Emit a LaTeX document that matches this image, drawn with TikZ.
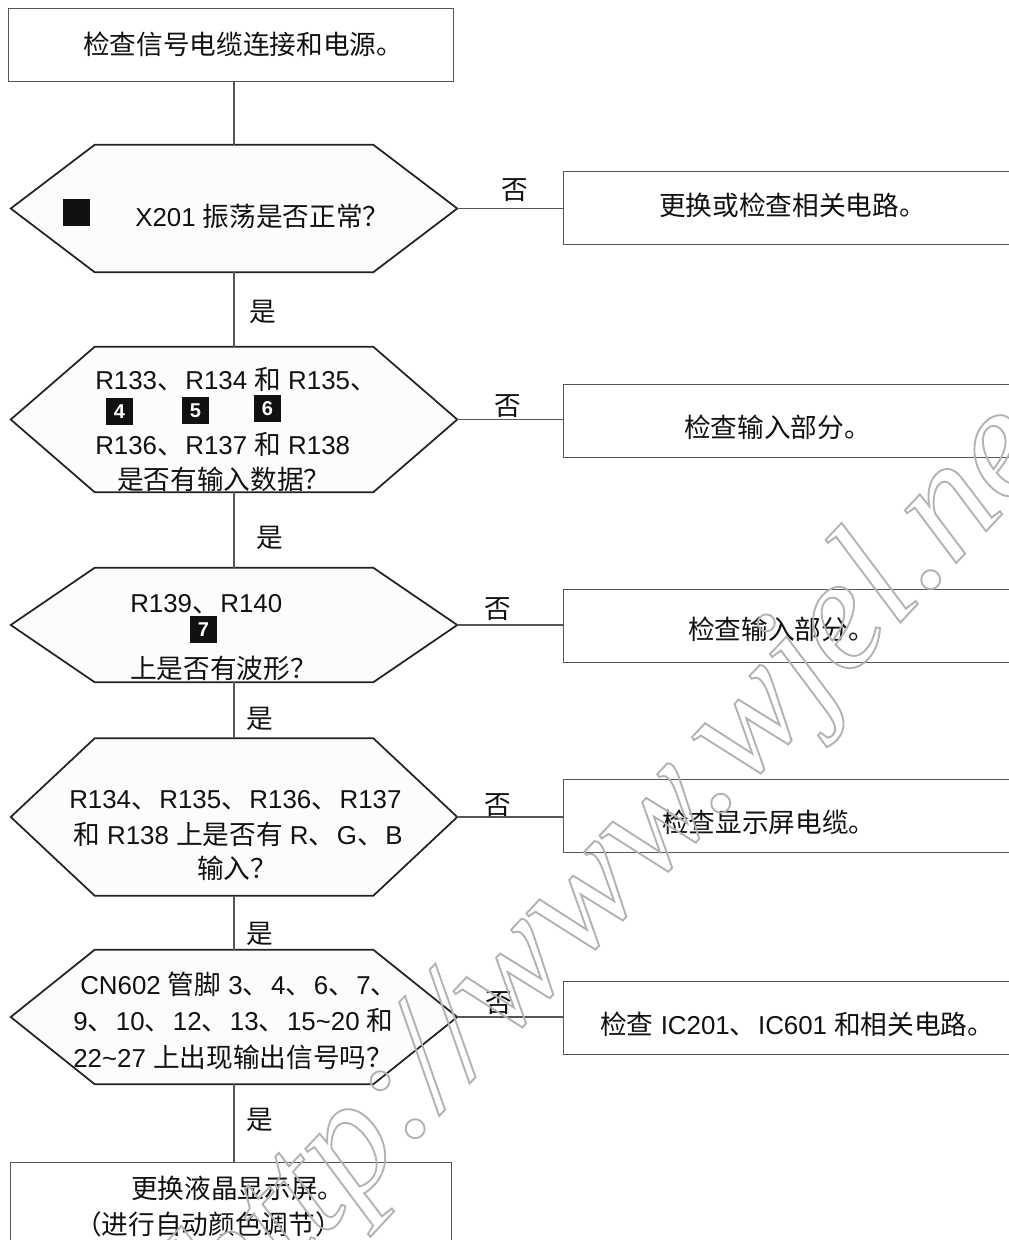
\documentclass[tikz,border=0pt]{standalone}
\usepackage{fontspec}
\setmainfont{Liberation Sans}
\newfontfamily\cjk{Noto Sans CJK SC}
\newfontfamily\wmfont{Liberation Serif}
\newcommand\Z[1]{{\cjk\fontsize{20}{20}\selectfont #1}}
\newcommand\D{\Z{、}\kern 1.2pt}
\definecolor{inkc}{HTML}{111111}
\definecolor{boxc}{HTML}{555555}
\definecolor{hexc}{HTML}{222222}
\definecolor{wmc}{HTML}{B4B4B4}
\definecolor{hexfill}{HTML}{FCFCFC}
\tikzset{
  flowbox/.style={draw=boxc,line width=.7pt,fill=white,inner sep=0pt,minimum height=73*.75pt},
  rightbox/.style={flowbox,minimum width=467*.75pt},
  hexbox/.style={inner sep=0pt,minimum width=446*.75pt},
  hexline/.style={draw=hexc,line width=1.3pt,fill=hexfill,line join=miter},
  conn/.style={draw=boxc,line width=.8pt},
  lab/.style={anchor=base west,inner sep=0pt,text=inkc,font=\fontsize{19.4}{20}\selectfont},
  badge/.style={fill=inkc,text=white,inner sep=0pt,minimum size=27*.75pt,font=\bfseries\fontsize{15}{15}\selectfont},
}
\newcommand\hexnode[3]{%
  \node[hexbox,minimum height=#3*.75pt] (#1) at (234,#2) {};
  \draw[hexline] (#1.west) -- ([xshift=63pt]#1.north west) -- ([xshift=-63pt]#1.north east) -- (#1.east)
    -- ([xshift=-63pt]#1.south east) -- ([xshift=63pt]#1.south west) -- cycle;
}
\begin{document}
\begin{tikzpicture}[x=.75pt,y=-.75pt]
\useasboundingbox (0,0) rectangle (1009,1240);
\clip (0,0) rectangle (1009,1240);
\fill[white] (0,0) rectangle (1009,1240);
% boxes
\node[flowbox,minimum width=445*.75pt] (b1) at (230.5,44.5) {};
\node[flowbox,minimum width=441*.75pt,minimum height=120*.75pt] (b2) at (230.5,1222) {};
\node[rightbox] (r1) at (796.5,208) {};
\node[rightbox] (r2) at (796.5,420.5) {};
\node[rightbox] (r3) at (796.5,625.5) {};
\node[rightbox] (r4) at (796.5,816) {};
\node[rightbox] (r5) at (796.5,1017.5) {};
% decisions
\hexnode{h1}{208.5}{127}
\hexnode{h2}{419.5}{145}
\hexnode{h3}{625}{114}
\hexnode{h4}{817}{157}
\hexnode{h5}{1017}{134}
% connectors
\draw[conn] (h1.north |- b1.south) -- (h1.north);
\draw[conn] (h1.south) -- (h2.north);
\draw[conn] (h2.south) -- (h3.north);
\draw[conn] (h3.south) -- (h4.north);
\draw[conn] (h4.south) -- (h5.north);
\draw[conn] (h5.south) -- (h5.south |- b2.north);
\draw[conn] (h1.east) -- (h1.east -| r1.west);
\draw[conn] (h2.east) -- (h2.east -| r2.west);
\draw[conn] (h3.east) -- (h3.east -| r3.west);
\draw[conn] (h4.east) -- (h4.east -| r4.west);
\draw[conn] (h5.east) -- (h5.east -| r5.west);
% labels on connectors
\node[lab] (n1) at (501,199) {\Z{否}};
\node[lab] (n2) at (494,415) {\Z{否}};
\node[lab] (n3) at (484,618) {\Z{否}};
\node[lab] (n4) at (484,814) {\Z{否}};
\node[lab] (n5) at (485,1012) {\Z{否}};
\node[lab] (y1) at (249,321) {\Z{是}};
\node[lab] (y2) at (256,547) {\Z{是}};
\node[lab] (y3) at (246,728) {\Z{是}};
\node[lab] (y4) at (246,943) {\Z{是}};
\node[lab] (y5) at (246,1129) {\Z{是}};
% box texts
\node[lab] (t1) at (83,54) {\Z{检查信号电缆连接和电源。}};
\node[lab] (t2) at (659,215) {\Z{更换或检查相关电路。}};
\node[lab] (t3) at (684,437) {\Z{检查输入部分。}};
\node[lab] (t4) at (688,639) {\Z{检查输入部分。}};
\node[lab] (t5) at (662,832) {\Z{检查显示屏电缆。}};
\node[lab] (t6) at (600,1034) {\Z{检查} IC201\D IC601 \Z{和相关电路。}};
\node[lab] (t7) at (131,1198) {\Z{更换液晶显示屏。}};
\node[lab] (t8) at (75,1234) {\Z{（进行自动颜色调节）}};
% decision texts
\node[badge] (k0) at (76,212) {};
\node[lab] (q1) at (135,226) {X201 \Z{振荡是否正常？}};
\node[lab] (q2a) at (95,389) {R133\D R134 \Z{和} R135\D};
\node[badge] (k4) at (119.5,411.5) {4};
\node[badge] (k5) at (195.5,410.5) {5};
\node[badge] (k6) at (267.5,408.5) {6};
\node[lab] (q2b) at (95,454) {R136\D R137 \Z{和} R138};
\node[lab] (q2c) at (117,489) {\Z{是否有输入数据？}};
\node[lab] (q3a) at (130,612) {R139\D R140};
\node[badge] (k7) at (203.5,629.5) {7};
\node[lab] (q3b) at (130,678) {\Z{上是否有波形？}};
\node[lab] (q4a) at (69,808) {R134\D R135\D R136\D R137};
\node[lab] (q4b) at (73,844) {\Z{和} R138 \Z{上是否有} R\D G\D B};
\node[lab] (q4c) at (197,878) {\Z{输入？}};
\node[lab] (q5a) at (80,994) {CN602 \Z{管脚} 3\D 4\D 6\D 7\D};
\node[lab] (q5b) at (73,1030) {9\D 10\D 12\D 13\D 15\textasciitilde20 \Z{和}};
\node[lab] (q5c) at (73,1067) {22\textasciitilde27 \Z{上出现输出信号吗？}};
% watermark
\node[anchor=base west,inner sep=0pt,rotate=46.8,text=wmc] (wm) at (236,1330)
  {\special{pdf:code q 1 Tr 1.4 w 0.7 G}\wmfont\itshape\fontsize{120}{120}\selectfont http://www.wjel.ne\special{pdf:code Q}};
\end{tikzpicture}
\end{document}
